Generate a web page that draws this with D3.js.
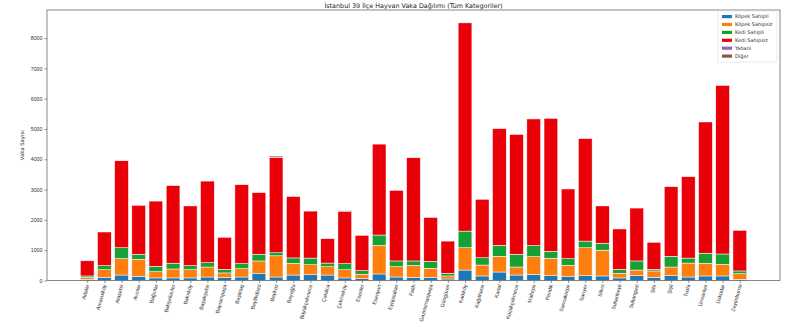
<!DOCTYPE html>
<html>
<head>
<meta charset="utf-8">
<script src="https://cdn.jsdelivr.net/npm/d3@7"></script>
<style>
  html, body { margin: 0; padding: 0; background: #fff; }
  svg { display: block; font-family: "DejaVu Sans", sans-serif; }
</style>
</head>
<body>
<svg id="chart" width="800" height="327"></svg>
<script>
// District list, in the order they appear on the x axis
const districts = [
  "Adalar", "Arnavutköy", "Ataşehir", "Avcılar", "Bağcılar", "Bahçelievler",
  "Bakırköy", "Başakşehir", "Bayrampaşa", "Beşiktaş", "Beylikdüzü", "Beykoz",
  "Beyoğlu", "Büyükçekmece", "Çatalca", "Çekmeköy", "Esenler", "Esenyurt",
  "Eyüpsultan", "Fatih", "Gaziosmanpaşa", "Güngören", "Kadıköy", "Kağıthane",
  "Kartal", "Küçükçekmece", "Maltepe", "Pendik", "Sancaktepe", "Sarıyer",
  "Silivri", "Sultanbeyli", "Sultangazi", "Şile", "Şişli", "Tuzla",
  "Ümraniye", "Üsküdar", "Zeytinburnu"
];

// Case counts per category
const kopekSahipli = [40, 105, 180, 140, 85, 85, 85, 115, 95, 115, 225, 115,
  180, 190, 180, 85, 60, 215, 115, 105, 105, 50, 345, 150,
  280, 180, 205, 160, 125, 160, 150, 85, 160, 105, 160, 115,
  150, 150, 40];
const kopekSahipsiz = [65, 250, 540, 560, 205, 295, 270, 330, 155, 275, 420, 700,
  390, 330, 275, 270, 145, 945, 340, 395, 300, 100, 735, 360,
  520, 265, 580, 575, 375, 920, 850, 155, 185, 210, 285, 460,
  420, 385, 185];
const kediSahipli = [45, 135, 360, 165, 180, 190, 135, 145, 120, 165, 220, 100,
  175, 220, 120, 200, 120, 340, 190, 145, 230, 90, 550, 240,
  360, 420, 365, 230, 220, 220, 230, 130, 300, 55, 355, 165,
  330, 340, 90];
const kediSahipsiz = [500, 1110, 2870, 1615, 2150, 2560, 1970, 2690, 1055, 2605, 2035, 3150,
  2025, 1550, 805, 1715, 1165, 3000, 2330, 3405, 1445, 1060, 6870, 1930,
  3850, 3955, 4180, 4385, 2300, 3380, 1230, 1330, 1745, 890, 2295, 2685,
  4330, 5560, 1340];
const yabani = [0, 0, 0, 0, 0, 0, 0, 0, 0, 0, 0, 0,
  0, 0, 0, 0, 0, 0, 0, 0, 0, 0, 0, 0,
  0, 0, 0, 0, 0, 0, 0, 0, 0, 0, 0, 0,
  0, 0, 0];
const diger = [0, 0, 0, 0, 0, 0, 0, 0, 0, 0, 0, 40,
  0, 0, 0, 30, 0, 0, 0, 0, 0, 0, 0, 0,
  0, 0, 0, 0, 0, 0, 0, 0, 0, 0, 0, 0,
  0, 0, 0];

const seriesNames = ["Köpek Sahipli", "Köpek Sahipsiz", "Kedi Sahipli", "Kedi Sahipsiz", "Yabani", "Diğer"];
const seriesValues = [kopekSahipli, kopekSahipsiz, kediSahipli, kediSahipsiz, yabani, diger];
const seriesColors = ["#1f77b4", "#ff7f0e", "#18a035", "#ea0008", "#9467bd", "#8c564b"];
const yTicks = [0, 1000, 2000, 3000, 4000, 5000, 6000, 7000, 8000];

const titleText = "İstanbul 39 İlçe Hayvan Vaka Dağılımı (Tüm Kategoriler)";
const yLabelText = "Vaka Sayısı";

// Rows for the stack layout
const rows = districts.map((d, i) => {
  const r = { district: d, index: i };
  seriesNames.forEach((s, k) => { r[s] = seriesValues[k][i]; });
  return r;
});
const stacked = d3.stack().keys(seriesNames)(rows);
const totals = rows.map(r => d3.sum(seriesNames, s => r[s]));

const plot = { left: 47, right: 780, top: 10, bottom: 280.5 };
const barWidth = 0.8;
const pad = (districts.length - 1 + barWidth) * 0.05;

const x = d3.scaleLinear()
  .domain([-barWidth / 2 - pad, districts.length - 1 + barWidth / 2 + pad])
  .range([plot.left, plot.right]);
const y = d3.scaleLinear()
  .domain([0, d3.max(totals) * 1.05])
  .range([plot.bottom, plot.top]);

const svg = d3.select("#chart");

// Stacked bars
const layers = svg.append("g").selectAll("g")
  .data(stacked)
  .join("g")
  .attr("fill", (d, k) => seriesColors[k]);

layers.selectAll("rect")
  .data(d => d)
  .join("rect")
  .attr("x", d => x(d.data.index - barWidth / 2))
  .attr("width", d => x(barWidth) - x(0))
  .attr("y", d => y(d[1]))
  .attr("height", d => Math.max(0, y(d[0]) - y(d[1])))
  .attr("stroke", "#fff")
  .attr("stroke-width", 0.5)
  .attr("stroke-opacity", d => (d[1] - d[0]) > 0 ? 1 : 0);

// Axes
const yAxis = svg.append("g")
  .attr("transform", `translate(${plot.left},0)`)
  .call(d3.axisLeft(y).tickValues(yTicks).tickSize(2.5).tickPadding(2).tickFormat(d3.format("d")));
const xAxis = svg.append("g")
  .attr("transform", `translate(0,${plot.bottom})`)
  .call(d3.axisBottom(x).tickValues(d3.range(districts.length)).tickSize(2.5).tickFormat(i => districts[i]));

[yAxis, xAxis].forEach(a => {
  a.select(".domain").remove();
  a.selectAll(".tick line").attr("stroke", "#444").attr("stroke-width", 0.6);
  a.selectAll(".tick text").attr("fill", "#333").style("font-size", "5.3px");
});

xAxis.selectAll(".tick text")
  .attr("text-anchor", "end")
  .attr("dy", "0.3em")
  .attr("transform", "translate(0,4) rotate(-75)")
  .attr("x", 0)
  .attr("y", 0);

// Frame
svg.append("rect")
  .attr("x", plot.left).attr("y", plot.top)
  .attr("width", plot.right - plot.left)
  .attr("height", plot.bottom - plot.top)
  .attr("fill", "none")
  .attr("stroke", "#555")
  .attr("stroke-width", 0.7);

// Title and axis label
svg.append("text")
  .attr("x", (plot.left + plot.right) / 2)
  .attr("y", 7.5)
  .attr("text-anchor", "middle")
  .attr("fill", "#222")
  .style("font-size", "6.4px")
  .text(titleText);

svg.append("text")
  .attr("transform", `translate(24,${(plot.top + plot.bottom) / 2}) rotate(-90)`)
  .attr("text-anchor", "middle")
  .attr("fill", "#333")
  .style("font-size", "5.3px")
  .text(yLabelText);

// Legend
const legend = svg.append("g").attr("transform", "translate(718,11)");
legend.append("rect")
  .attr("x", 0).attr("y", 0)
  .attr("width", 59).attr("height", 51)
  .attr("fill", "#fff")
  .attr("fill-opacity", 0.8)
  .attr("stroke", "#ddd")
  .attr("stroke-width", 0.6)
  .attr("rx", 1.5);

const items = legend.selectAll("g.item")
  .data(seriesNames)
  .join("g")
  .attr("class", "item")
  .attr("transform", (d, k) => `translate(4,${4 + k * 7.9})`);
items.append("rect")
  .attr("width", 10).attr("height", 3.2)
  .attr("fill", (d, k) => seriesColors[k]);
items.append("text")
  .attr("x", 13).attr("y", 1.6)
  .attr("dy", "0.35em")
  .attr("fill", "#333")
  .style("font-size", "5px")
  .text(d => d);
</script>
</body>
</html>
